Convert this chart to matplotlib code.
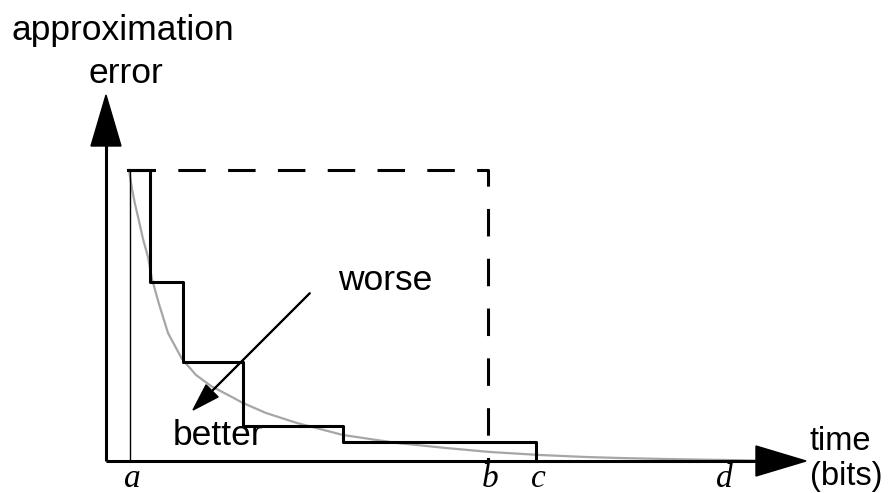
import matplotlib.pyplot as plt

# axis units are pixels measured from the origin of the sketch
t_marks = {'a': 24, 'b': 382, 'c': 430, 'd': 616}

# stepwise refinement: interval edges and the error held on each one
step_t = [22, 44, 77, 137, 237, 430]
step_err = [291, 179, 99, 35, 19, 0]

# smooth (ideal) error curve
curve_t = [23, 26, 29, 33, 37, 42, 46, 53, 62, 76, 90, 105, 124, 137, 160, 191,
           237, 291, 340, 384, 434, 480, 514, 560, 600, 634, 650]
curve_err = [291, 272, 257, 240, 222, 204, 182, 157, 128, 102, 86, 75, 65, 58, 48, 38,
             26, 18, 13, 9, 6, 4, 3, 2, 1.3, 0.8, 0.4]

# bound: worst case error up to time b
bound_t = [22, 382, 382]
bound_err = [291, 291, 0]

fig = plt.figure(figsize=(8.94, 4.93), dpi=100)
ax = fig.add_axes([0, 0, 1, 1])
ax.set_xlim(-106, 788)
ax.set_ylim(-32, 461)
ax.axis('off')

sans = 'Liberation Sans'
serif = 'Liberation Serif'
fs = 25.5

# axes with arrow heads
ax.plot([0, 0], [0, 320], color='black', lw=2.2, solid_capstyle='butt', zorder=5)
ax.plot([0, 655], [0, 0], color='black', lw=2.2, solid_capstyle='butt', zorder=5)
ax.arrow(0, 315, 0, 51, width=0.1, head_width=30, head_length=51,
         length_includes_head=True, color='black', zorder=6)
ax.arrow(650, 0, 50, 0, width=0.1, head_width=30, head_length=50,
         length_includes_head=True, color='black', zorder=6)

# thin marker at a
ax.plot([t_marks['a'], t_marks['a']], [0, 289], color='black', lw=1.0, zorder=3)

ax.plot(curve_t, curve_err, color='#a6a6a6', lw=1.6, zorder=2)
ax.step(step_t, step_err, where='post', color='black', lw=2.2, zorder=4)
ax.plot(bound_t, bound_err, color='black', lw=2.2, dashes=(9, 7.3), zorder=4)

# worse -> better arrow
ax.arrow(204, 168, -117, -117, width=0.9, head_width=17, head_length=27,
         length_includes_head=True, color='black', zorder=6)

ax.text(17, 421, 'approximation', fontsize=fs, family=sans, ha='center', va='baseline')
ax.text(20, 378, 'error', fontsize=fs, family=sans, ha='center', va='baseline')
ax.text(279, 171, 'worse', fontsize=fs, family=sans, ha='center', va='baseline')
ax.text(112, 16, 'better', fontsize=fs, family=sans, ha='center', va='baseline')
ax.text(704, 11, 'time', fontsize=23.5, family=sans, ha='left', va='baseline')
ax.text(704, -24, '(bits)', fontsize=23.5, family=sans, ha='left', va='baseline')

for name, t in t_marks.items():
    ax.text(t + 2, -26, name, fontsize=24, family=serif, style='italic',
            ha='center', va='baseline')

fig.savefig('out.png', dpi=100)
